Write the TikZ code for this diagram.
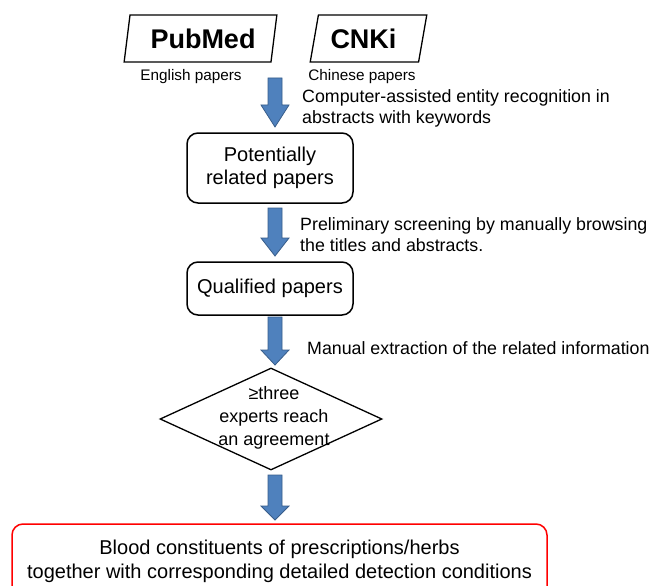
\documentclass[tikz,border=0pt]{standalone}
\usepackage{fontspec}
\setmainfont{Liberation Sans}
\usetikzlibrary{shapes.geometric}
\definecolor{arrowfill}{HTML}{4F81BD}
\definecolor{arrowline}{HTML}{385D8A}
\definecolor{boxred}{HTML}{FF0000}
\newcommand{\bluearrow}[5]{% name, x, top, tip, head length
  \draw[bluearrowstyle] ({#2-7},#3) -- ({#2+7},#3) -- ({#2+7},{#4-#5}) -- ({#2+14},{#4-#5})
    -- (#2,#4) coordinate (#1) -- ({#2-14},{#4-#5}) -- ({#2-7},{#4-#5}) -- cycle;}
\begin{document}
\begin{tikzpicture}[x=1pt,y=-1pt,
  bluearrowstyle/.style={fill=arrowfill,draw=arrowline,line width=0.8pt},
  srcbox/.style={trapezium,draw,line width=1.3pt,trapezium left angle=77,trapezium right angle=103,
    trapezium stretches=true,inner sep=0pt,font=\bfseries\fontsize{27}{30}\selectfont},
  srclabel/.style={inner sep=0pt,font=\fontsize{15.3}{18}\selectfont},
  stepbox/.style={draw,rounded corners=11pt,line width=1.5pt,align=center,inner sep=0pt,
    font=\fontsize{20}{22.5}\selectfont},
  note/.style={anchor=north west,inner sep=0pt,align=left,font=\fontsize{17.8}{21}\selectfont},
  ]
\useasboundingbox (0,0) rectangle (654,586);
\clip (0,0) rectangle (654,586);
\fill[white] (0,0) rectangle (654,586);

\node[srcbox,minimum width=153,minimum height=47] (pub) at (200.5,38.5) {\hspace*{5pt}PubMed};
\node[srcbox,minimum width=117,minimum height=47] (cnki) at (368.5,38.5) {\hspace*{-10pt}CNKi};
\node[srclabel] (publab) at (191,77) {English papers};
\node[srclabel] (cnkilab) at (362,77) {Chinese papers};

\bluearrow{a1}{275}{78}{127}{22}
\node[note] (n1) at (302,89.5) {Computer-assisted entity recognition in\\abstracts with keywords};

\node[stepbox,minimum width=166,minimum height=70] (pot) at (270,168) {Potentially\\related papers};

\bluearrow{a2}{275}{208}{256}{18}
\node[note] (n2) at (300,217.5) {Preliminary screening by manually browsing\\the titles and abstracts.};

\node[stepbox,minimum width=166,minimum height=53] (qual) at (270,288.5) {Qualified papers};

\bluearrow{a3}{275}{317}{365}{15}
\node[note] (n3) at (307,341.5) {Manual extraction of the related information};

\node[diamond,draw,line width=1.3pt,minimum width=222,minimum height=102,inner sep=0pt] (dec) at (271,419) {};
\node[anchor=north,inner sep=0pt,align=center,font=\fontsize{18}{23}\selectfont] (dectext) at (274,386) {≥three\\experts reach\\an agreement};

\bluearrow{a4}{275}{475}{520}{14}

\node[draw=boxred,rounded corners=11pt,line width=1.5pt,minimum width=535,minimum height=75,
  inner sep=0pt,align=center,font=\fontsize{20}{24.5}\selectfont] (res) at (279.5,561.5)
  {Blood constituents of prescriptions/herbs\\together with corresponding detailed detection conditions};
\end{tikzpicture}
\end{document}
